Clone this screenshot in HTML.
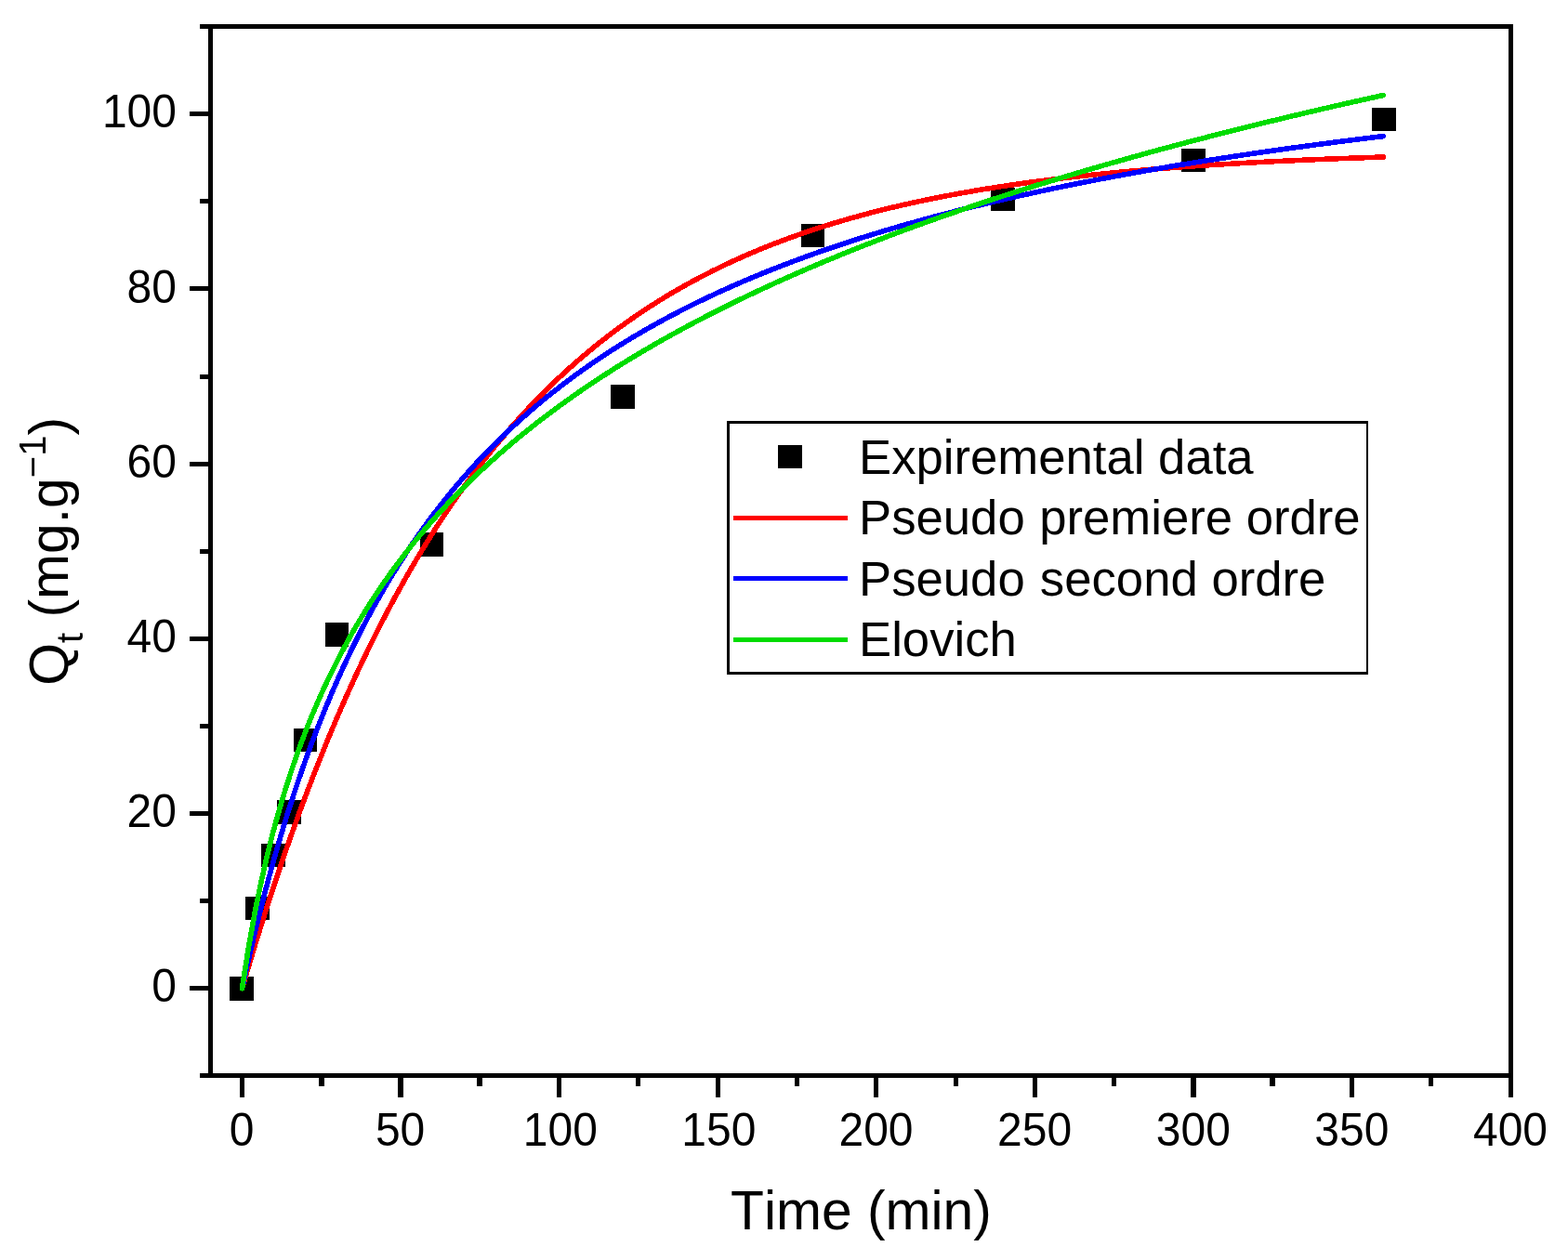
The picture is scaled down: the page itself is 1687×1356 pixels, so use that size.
<!DOCTYPE html>
<html lang="en">
<head>
<meta charset="utf-8">
<title>Adsorption kinetics</title>
<style>
html,body{margin:0;padding:0;background:#fff;}
body{width:1687px;height:1356px;overflow:hidden;}
svg{display:block;}
text{font-family:"Liberation Sans",sans-serif;fill:#000;font-kerning:none;}
.tick{font-size:48px;}
.leg{font-size:52.7px;}
.ttl{font-size:58.8px;}
.ax{stroke:#000;stroke-width:5;fill:none;shape-rendering:crispEdges;}
.crv{fill:none;stroke-width:5.6;stroke-linecap:round;stroke-linejoin:round;shape-rendering:crispEdges;}
</style>
</head>
<body>
<svg width="1687" height="1356" viewBox="0 0 1687 1356">
<rect x="0" y="0" width="1687" height="1356" fill="#ffffff"/>

<g fill="#000" shape-rendering="crispEdges">
<rect x="247" y="1051" width="26" height="26"/>
<rect x="264" y="965" width="26" height="25"/>
<rect x="281" y="908" width="26" height="25"/>
<rect x="298" y="861" width="26" height="26"/>
<rect x="316" y="784" width="25" height="25"/>
<rect x="350" y="670" width="25" height="26"/>
<rect x="452" y="573" width="25" height="26"/>
<rect x="657" y="414" width="26" height="26"/>
<rect x="862" y="241" width="25" height="25"/>
<rect x="1066" y="202" width="26" height="25"/>
<rect x="1271" y="160" width="26" height="25"/>
<rect x="1476" y="116" width="26" height="25"/>
</g>
<path class="crv" stroke="#ff0000" d="M260.50,1063.75 L267.32,1040.55 L274.14,1017.94 L280.96,995.91 L287.78,974.45 L294.60,953.54 L301.42,933.17 L308.24,913.32 L315.07,893.99 L321.89,875.14 L328.71,856.79 L335.53,838.90 L342.35,821.48 L349.17,804.50 L355.99,787.96 L362.81,771.84 L369.63,756.14 L376.45,740.84 L383.27,725.93 L390.09,711.41 L396.91,697.26 L403.73,683.47 L410.55,670.04 L417.37,656.95 L424.20,644.20 L431.02,631.78 L437.84,619.67 L444.66,607.88 L451.48,596.39 L458.30,585.19 L465.12,574.29 L471.94,563.66 L478.76,553.31 L485.58,543.22 L492.40,533.39 L499.22,523.81 L506.04,514.48 L512.86,505.39 L519.68,496.54 L526.50,487.91 L533.33,479.50 L540.15,471.31 L546.97,463.33 L553.79,455.55 L560.61,447.97 L567.43,440.59 L574.25,433.40 L581.07,426.39 L587.89,419.57 L594.71,412.92 L601.53,406.44 L608.35,400.12 L615.17,393.97 L621.99,387.98 L628.81,382.14 L635.64,376.45 L642.46,370.90 L649.28,365.50 L656.10,360.24 L662.92,355.11 L669.74,350.12 L676.56,345.25 L683.38,340.51 L690.20,335.89 L697.02,331.39 L703.84,327.00 L710.66,322.73 L717.48,318.56 L724.30,314.51 L731.12,310.56 L737.94,306.70 L744.77,302.95 L751.59,299.30 L758.41,295.74 L765.23,292.27 L772.05,288.89 L778.87,285.59 L785.69,282.38 L792.51,279.26 L799.33,276.21 L806.15,273.24 L812.97,270.35 L819.79,267.53 L826.61,264.79 L833.43,262.11 L840.25,259.51 L847.08,256.97 L853.90,254.49 L860.72,252.08 L867.54,249.74 L874.36,247.45 L881.18,245.22 L888.00,243.05 L894.82,240.93 L901.64,238.87 L908.46,236.86 L915.28,234.90 L922.10,233.00 L928.92,231.14 L935.74,229.33 L942.56,227.57 L949.38,225.85 L956.21,224.17 L963.03,222.54 L969.85,220.95 L976.67,219.41 L983.49,217.90 L990.31,216.43 L997.13,215.00 L1003.95,213.60 L1010.77,212.24 L1017.59,210.92 L1024.41,209.63 L1031.23,208.37 L1038.05,207.14 L1044.87,205.95 L1051.69,204.79 L1058.51,203.65 L1065.34,202.55 L1072.16,201.48 L1078.98,200.43 L1085.80,199.41 L1092.62,198.41 L1099.44,197.44 L1106.26,196.50 L1113.08,195.58 L1119.90,194.68 L1126.72,193.81 L1133.54,192.96 L1140.36,192.13 L1147.18,191.32 L1154.00,190.53 L1160.82,189.77 L1167.65,189.02 L1174.47,188.29 L1181.29,187.58 L1188.11,186.89 L1194.93,186.22 L1201.75,185.56 L1208.57,184.92 L1215.39,184.30 L1222.21,183.70 L1229.03,183.10 L1235.85,182.53 L1242.67,181.97 L1249.49,181.42 L1256.31,180.89 L1263.13,180.37 L1269.95,179.86 L1276.78,179.37 L1283.60,178.89 L1290.42,178.42 L1297.24,177.97 L1304.06,177.52 L1310.88,177.09 L1317.70,176.67 L1324.52,176.26 L1331.34,175.86 L1338.16,175.47 L1344.98,175.09 L1351.80,174.72 L1358.62,174.36 L1365.44,174.01 L1372.26,173.67 L1379.08,173.33 L1385.91,173.01 L1392.73,172.69 L1399.55,172.39 L1406.37,172.08 L1413.19,171.79 L1420.01,171.51 L1426.83,171.23 L1433.65,170.96 L1440.47,170.69 L1447.29,170.44 L1454.11,170.19 L1460.93,169.94 L1467.75,169.71 L1474.57,169.47 L1481.39,169.25 L1488.22,169.03"/>
<path class="crv" stroke="#0000ff" d="M260.50,1063.75 L267.32,1032.95 L274.14,1003.83 L280.96,976.27 L287.78,950.14 L294.60,925.33 L301.42,901.75 L308.24,879.31 L315.07,857.93 L321.89,837.52 L328.71,818.04 L335.53,799.41 L342.35,781.59 L349.17,764.51 L355.99,748.14 L362.81,732.43 L369.63,717.35 L376.45,702.85 L383.27,688.90 L390.09,675.47 L396.91,662.54 L403.73,650.07 L410.55,638.05 L417.37,626.44 L424.20,615.23 L431.02,604.40 L437.84,593.93 L444.66,583.79 L451.48,573.98 L458.30,564.48 L465.12,555.28 L471.94,546.35 L478.76,537.70 L485.58,529.30 L492.40,521.14 L499.22,513.23 L506.04,505.53 L512.86,498.05 L519.68,490.78 L526.50,483.70 L533.33,476.82 L540.15,470.12 L546.97,463.59 L553.79,457.23 L560.61,451.04 L567.43,444.99 L574.25,439.10 L581.07,433.36 L587.89,427.75 L594.71,422.28 L601.53,416.94 L608.35,411.72 L615.17,406.62 L621.99,401.64 L628.81,396.77 L635.64,392.02 L642.46,387.36 L649.28,382.81 L656.10,378.36 L662.92,374.00 L669.74,369.73 L676.56,365.56 L683.38,361.46 L690.20,357.46 L697.02,353.53 L703.84,349.69 L710.66,345.92 L717.48,342.22 L724.30,338.60 L731.12,335.05 L737.94,331.56 L744.77,328.14 L751.59,324.79 L758.41,321.50 L765.23,318.27 L772.05,315.09 L778.87,311.98 L785.69,308.92 L792.51,305.91 L799.33,302.96 L806.15,300.06 L812.97,297.21 L819.79,294.41 L826.61,291.66 L833.43,288.95 L840.25,286.29 L847.08,283.67 L853.90,281.10 L860.72,278.57 L867.54,276.08 L874.36,273.62 L881.18,271.21 L888.00,268.84 L894.82,266.50 L901.64,264.20 L908.46,261.94 L915.28,259.71 L922.10,257.51 L928.92,255.35 L935.74,253.22 L942.56,251.12 L949.38,249.05 L956.21,247.01 L963.03,245.00 L969.85,243.02 L976.67,241.07 L983.49,239.15 L990.31,237.26 L997.13,235.39 L1003.95,233.54 L1010.77,231.73 L1017.59,229.93 L1024.41,228.17 L1031.23,226.42 L1038.05,224.70 L1044.87,223.00 L1051.69,221.33 L1058.51,219.68 L1065.34,218.04 L1072.16,216.43 L1078.98,214.85 L1085.80,213.28 L1092.62,211.73 L1099.44,210.20 L1106.26,208.69 L1113.08,207.20 L1119.90,205.73 L1126.72,204.27 L1133.54,202.84 L1140.36,201.42 L1147.18,200.02 L1154.00,198.63 L1160.82,197.27 L1167.65,195.92 L1174.47,194.58 L1181.29,193.26 L1188.11,191.96 L1194.93,190.67 L1201.75,189.39 L1208.57,188.13 L1215.39,186.89 L1222.21,185.66 L1229.03,184.44 L1235.85,183.24 L1242.67,182.05 L1249.49,180.87 L1256.31,179.71 L1263.13,178.56 L1269.95,177.42 L1276.78,176.30 L1283.60,175.19 L1290.42,174.08 L1297.24,172.99 L1304.06,171.92 L1310.88,170.85 L1317.70,169.80 L1324.52,168.75 L1331.34,167.72 L1338.16,166.70 L1344.98,165.69 L1351.80,164.68 L1358.62,163.69 L1365.44,162.71 L1372.26,161.74 L1379.08,160.78 L1385.91,159.83 L1392.73,158.89 L1399.55,157.95 L1406.37,157.03 L1413.19,156.12 L1420.01,155.21 L1426.83,154.31 L1433.65,153.43 L1440.47,152.55 L1447.29,151.68 L1454.11,150.81 L1460.93,149.96 L1467.75,149.11 L1474.57,148.27 L1481.39,147.44 L1488.22,146.62"/>
<path class="crv" stroke="#00dc00" d="M260.50,1063.75 L267.32,1020.07 L274.14,982.32 L280.96,949.09 L287.78,919.40 L294.60,892.57 L301.42,868.11 L308.24,845.62 L315.07,824.81 L321.89,805.45 L328.71,787.35 L335.53,770.35 L342.35,754.33 L349.17,739.19 L355.99,724.82 L362.81,711.16 L369.63,698.14 L376.45,685.70 L383.27,673.79 L390.09,662.38 L396.91,651.41 L403.73,640.85 L410.55,630.69 L417.37,620.88 L424.20,611.40 L431.02,602.24 L437.84,593.37 L444.66,584.77 L451.48,576.43 L458.30,568.33 L465.12,560.46 L471.94,552.81 L478.76,545.36 L485.58,538.11 L492.40,531.04 L499.22,524.14 L506.04,517.42 L512.86,510.85 L519.68,504.43 L526.50,498.16 L533.33,492.02 L540.15,486.02 L546.97,480.14 L553.79,474.39 L560.61,468.75 L567.43,463.22 L574.25,457.81 L581.07,452.49 L587.89,447.28 L594.71,442.16 L601.53,437.13 L608.35,432.19 L615.17,427.34 L621.99,422.57 L628.81,417.88 L635.64,413.27 L642.46,408.73 L649.28,404.27 L656.10,399.88 L662.92,395.55 L669.74,391.30 L676.56,387.10 L683.38,382.97 L690.20,378.90 L697.02,374.89 L703.84,370.93 L710.66,367.03 L717.48,363.18 L724.30,359.39 L731.12,355.65 L737.94,351.95 L744.77,348.31 L751.59,344.71 L758.41,341.16 L765.23,337.65 L772.05,334.19 L778.87,330.76 L785.69,327.39 L792.51,324.05 L799.33,320.75 L806.15,317.49 L812.97,314.26 L819.79,311.08 L826.61,307.93 L833.43,304.81 L840.25,301.73 L847.08,298.68 L853.90,295.67 L860.72,292.69 L867.54,289.74 L874.36,286.82 L881.18,283.93 L888.00,281.07 L894.82,278.24 L901.64,275.44 L908.46,272.67 L915.28,269.92 L922.10,267.20 L928.92,264.51 L935.74,261.84 L942.56,259.20 L949.38,256.58 L956.21,253.99 L963.03,251.42 L969.85,248.87 L976.67,246.35 L983.49,243.85 L990.31,241.37 L997.13,238.92 L1003.95,236.48 L1010.77,234.07 L1017.59,231.68 L1024.41,229.31 L1031.23,226.96 L1038.05,224.62 L1044.87,222.31 L1051.69,220.02 L1058.51,217.74 L1065.34,215.48 L1072.16,213.25 L1078.98,211.03 L1085.80,208.82 L1092.62,206.64 L1099.44,204.47 L1106.26,202.32 L1113.08,200.18 L1119.90,198.06 L1126.72,195.96 L1133.54,193.87 L1140.36,191.80 L1147.18,189.74 L1154.00,187.70 L1160.82,185.67 L1167.65,183.66 L1174.47,181.66 L1181.29,179.68 L1188.11,177.71 L1194.93,175.76 L1201.75,173.81 L1208.57,171.89 L1215.39,169.97 L1222.21,168.07 L1229.03,166.18 L1235.85,164.30 L1242.67,162.44 L1249.49,160.59 L1256.31,158.75 L1263.13,156.92 L1269.95,155.11 L1276.78,153.30 L1283.60,151.51 L1290.42,149.73 L1297.24,147.96 L1304.06,146.20 L1310.88,144.46 L1317.70,142.72 L1324.52,141.00 L1331.34,139.28 L1338.16,137.58 L1344.98,135.88 L1351.80,134.20 L1358.62,132.53 L1365.44,130.86 L1372.26,129.21 L1379.08,127.57 L1385.91,125.93 L1392.73,124.31 L1399.55,122.69 L1406.37,121.09 L1413.19,119.49 L1420.01,117.90 L1426.83,116.32 L1433.65,114.75 L1440.47,113.19 L1447.29,111.64 L1454.11,110.10 L1460.93,108.56 L1467.75,107.04 L1474.57,105.52 L1481.39,104.01 L1488.22,102.50"/>
<g fill="#000" shape-rendering="crispEdges">
<rect x="224" y="26" width="5" height="1134"/>
<rect x="1623" y="26" width="5" height="1155"/>
<rect x="215" y="26" width="1413" height="5"/>
<rect x="215" y="1155" width="1413" height="5"/>
<rect x="204" y="120" width="21" height="5"/>
<rect x="215" y="214" width="10" height="5"/>
<rect x="204" y="308" width="21" height="5"/>
<rect x="215" y="403" width="10" height="5"/>
<rect x="204" y="497" width="21" height="5"/>
<rect x="215" y="591" width="10" height="5"/>
<rect x="204" y="685" width="21" height="5"/>
<rect x="215" y="779" width="10" height="5"/>
<rect x="204" y="873" width="21" height="5"/>
<rect x="215" y="967" width="10" height="5"/>
<rect x="204" y="1061" width="21" height="5"/>
<rect x="258" y="1158" width="5" height="23"/>
<rect x="343" y="1158" width="6" height="11"/>
<rect x="428" y="1158" width="6" height="23"/>
<rect x="513" y="1158" width="6" height="11"/>
<rect x="599" y="1158" width="5" height="23"/>
<rect x="684" y="1158" width="5" height="11"/>
<rect x="770" y="1158" width="5" height="23"/>
<rect x="855" y="1158" width="5" height="11"/>
<rect x="940" y="1158" width="5" height="23"/>
<rect x="1026" y="1158" width="5" height="11"/>
<rect x="1111" y="1158" width="5" height="23"/>
<rect x="1196" y="1158" width="5" height="11"/>
<rect x="1281" y="1158" width="6" height="23"/>
<rect x="1366" y="1158" width="6" height="11"/>
<rect x="1452" y="1158" width="5" height="23"/>
<rect x="1537" y="1158" width="5" height="11"/>
</g>
<g class="tick" text-anchor="end">
<text transform="translate(190,1077.9) scale(1,1.04)">0</text>
<text transform="translate(190,889.9) scale(1,1.04)">20</text>
<text transform="translate(190,701.9) scale(1,1.04)">40</text>
<text transform="translate(190,513.9) scale(1,1.04)">60</text>
<text transform="translate(190,325.9) scale(1,1.04)">80</text>
<text transform="translate(190,136.9) scale(1,1.04)">100</text>
</g>
<g class="tick" text-anchor="middle">
<text transform="translate(260.0,1232.7) scale(1,1.04)">0</text>
<text transform="translate(430.6,1232.7) scale(1,1.04)">50</text>
<text transform="translate(602.8,1232.7) scale(1,1.04)">100</text>
<text transform="translate(773.4,1232.7) scale(1,1.04)">150</text>
<text transform="translate(942.5,1232.7) scale(1,1.04)">200</text>
<text transform="translate(1113.1,1232.7) scale(1,1.04)">250</text>
<text transform="translate(1283.8,1232.7) scale(1,1.04)">300</text>
<text transform="translate(1454.4,1232.7) scale(1,1.04)">350</text>
<text transform="translate(1625.0,1232.7) scale(1,1.04)">400</text>
</g>
<text class="ttl" x="786" y="1323.2">Time (min)</text>
<text class="ttl" transform="translate(72.7,737.7) rotate(-90)">Q<tspan font-size="40" dy="15.8">t</tspan><tspan dy="-15.8"> (mg.g</tspan><tspan font-size="40" dy="-23.6">−1</tspan><tspan dy="23.6">)</tspan></text>
<g shape-rendering="crispEdges"><rect x="782" y="453" width="690" height="273" fill="#000"/><rect x="785" y="456" width="685" height="267" fill="#fff"/></g>
<rect x="837" y="479" width="26" height="25" fill="#000" shape-rendering="crispEdges"/>
<rect x="789" y="555.0" width="123" height="5" fill="#ff0000" shape-rendering="crispEdges"/>
<rect x="789" y="620.0" width="123" height="5" fill="#0000ff" shape-rendering="crispEdges"/>
<rect x="789" y="686.0" width="123" height="5" fill="#00dc00" shape-rendering="crispEdges"/>
<text class="leg" x="924" y="510">Expiremental data</text>
<text class="leg" x="924" y="575.1">Pseudo<tspan dx="0.8"> premiere ordre</tspan></text>
<text class="leg" x="924" y="640.7">Pseudo<tspan dx="1.5"> second ordre</tspan></text>
<text class="leg" x="924" y="705.9">Elovich</text>
</svg>
</body>
</html>
